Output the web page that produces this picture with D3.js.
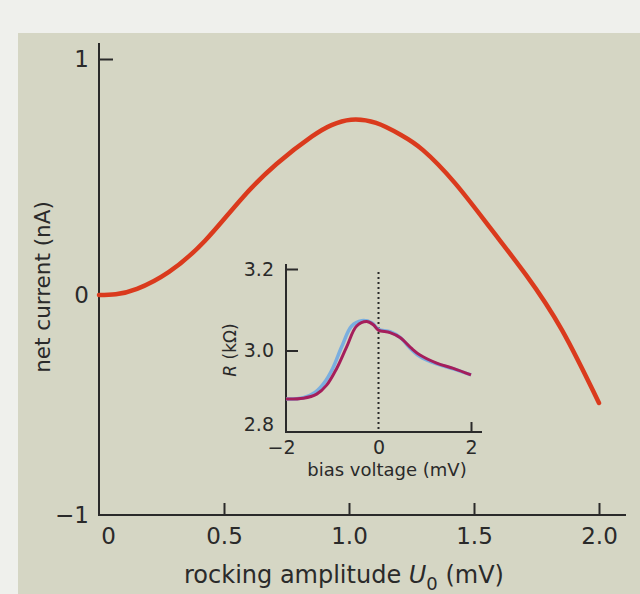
<!DOCTYPE html>
<html>
<head>
<meta charset="utf-8">
<script src="https://cdn.jsdelivr.net/npm/d3@7"></script>
<style>
  html, body { margin: 0; padding: 0; background: #eff0ec; }
  svg { display: block; }
</style>
</head>
<body>
<svg id="chart" width="640" height="594"></svg>
<script>
// ---- Data ----
// Main curve: rocking amplitude U0 (mV) vs net current (nA)
const mainU = [0, 0.067, 0.152, 0.28, 0.424, 0.567, 0.71, 0.852, 0.93, 1.008, 1.108, 1.208, 1.296, 1.424, 1.568, 1.708, 1.852, 2.0];
const mainI = [0, 0.003, 0.026, 0.098, 0.23, 0.404, 0.555, 0.672, 0.72, 0.743, 0.729, 0.678, 0.614, 0.474, 0.28, 0.085, -0.16, -0.491];

// Inset: bias voltage (mV) vs R (kOhm), two traces
const insetV = [-2, -1.625, -1.337, -1.121, -0.904, -0.688, -0.472, -0.256, -0.112, -0.004, 0.249, 0.465, 0.717, 0.897, 1.258, 1.618, 2.0];
const insetRed = [2.881, 2.883, 2.893, 2.915, 2.956, 3.009, 3.060, 3.071, 3.063, 3.050, 3.044, 3.032, 3.005, 2.989, 2.969, 2.956, 2.940];
const insetVBlue = [-2, -1.625, -1.373, -1.178, -0.991, -0.796, -0.580, -0.364, -0.148, -0.004, 0.249, 0.465, 0.717, 0.897, 1.258, 1.618, 2.0];
const insetBlue = [2.881, 2.884, 2.897, 2.920, 2.956, 3.009, 3.060, 3.073, 3.068, 3.052, 3.046, 3.032, 3.002, 2.985, 2.967, 2.955, 2.940];

// Tick labels
const mainXTicks = [0, 0.5, 1.0, 1.5, 2.0];
const mainXTickLabels = ["0", "0.5", "1.0", "1.5", "2.0"];
const mainYTicks = [-1, 0, 1];
const mainYTickLabels = ["\u22121", "0", "1"];
const insetXTicks = [-2, 0, 2];
const insetXTickLabels = ["\u22122", "0", "2"];
const insetYTicks = [2.8, 3.0, 3.2];
const insetYTickLabels = ["2.8", "3.0", "3.2"];

// ---- Drawing ----
const svg = d3.select("#chart");
const FONT = "'DejaVu Sans', sans-serif";
const INK = "#2a2a2a";

// panel background
svg.append("rect").attr("x", 18).attr("y", 33).attr("width", 622).attr("height", 561)
  .attr("fill", "#d5d6c4");

// main scales
const x = d3.scaleLinear().domain([0, 2]).range([99, 599]);
const y = d3.scaleLinear().domain([-1, 0, 1]).range([515, 295, 59]);

const g = svg.append("g");

// main axes lines
g.append("line").attr("x1", x(0)).attr("x2", x(0)).attr("y1", 43).attr("y2", y(-1))
  .attr("stroke", INK).attr("stroke-width", 2);
g.append("line").attr("x1", x(0) - 1).attr("x2", 626).attr("y1", y(-1)).attr("y2", y(-1))
  .attr("stroke", INK).attr("stroke-width", 2);

// x ticks (inward / upward)
const xAxis = d3.axisBottom(x).tickValues(mainXTicks)
  .tickFormat((d, i) => mainXTickLabels[i]).tickSize(0).tickPadding(13);
const gx = g.append("g").attr("transform", `translate(0,${y(-1)})`).call(xAxis);
gx.select(".domain").remove();
gx.selectAll("text").attr("font-family", FONT).attr("font-size", 23).attr("fill", INK);
gx.selectAll(".tick").filter(d => d > 0).append("line")
  .attr("y1", 0).attr("y2", -12).attr("stroke", INK).attr("stroke-width", 2);
gx.selectAll(".tick text").filter(d => d === 0).attr("dx", 9);

// y ticks
const yAxis = d3.axisLeft(y).tickValues(mainYTicks)
  .tickFormat((d, i) => mainYTickLabels[i]).tickSize(0).tickPadding(10);
const gy = g.append("g").attr("transform", `translate(${x(0)},0)`).call(yAxis);
gy.select(".domain").remove();
gy.selectAll("text").attr("font-family", FONT).attr("font-size", 23).attr("fill", INK);
gy.selectAll(".tick").filter(d => d === 1).append("line")
  .attr("x1", 0).attr("x2", 14).attr("stroke", INK).attr("stroke-width", 2);

// axis titles
svg.append("text")
  .attr("transform", `translate(50,287) rotate(-90)`)
  .attr("text-anchor", "middle")
  .attr("font-family", FONT).attr("font-size", 21.5).attr("fill", INK)
  .text("net current (nA)");

const xt = svg.append("text")
  .attr("x", 344).attr("y", 583)
  .attr("text-anchor", "middle")
  .attr("font-family", FONT).attr("font-size", 24).attr("fill", INK);
xt.append("tspan").text("rocking amplitude ");
xt.append("tspan").attr("font-style", "italic").text("U");
xt.append("tspan").attr("font-size", 18).attr("dy", 7).text("0");
xt.append("tspan").attr("dy", -7).text(" (mV)");

// main curve
const mainData = mainU.map((u, i) => [u, mainI[i]]);
const line = d3.line().x(d => x(d[0])).y(d => y(d[1])).curve(d3.curveNatural);
svg.append("path").datum(mainData).attr("d", line)
  .attr("fill", "none").attr("stroke", "#da3a1d").attr("stroke-width", 4.5)
  .attr("stroke-linecap", "round");

// ---- Inset ----
const ix = d3.scaleLinear().domain([-2, 2]).range([286, 471]);
const iy = d3.scaleLinear().domain([2.8, 3.2]).range([432, 269]);
const ig = svg.append("g");

ig.append("line").attr("x1", ix(-2)).attr("x2", ix(-2)).attr("y1", 264).attr("y2", iy(2.8))
  .attr("stroke", INK).attr("stroke-width", 2);
ig.append("line").attr("x1", ix(-2) - 1).attr("x2", 482).attr("y1", iy(2.8)).attr("y2", iy(2.8))
  .attr("stroke", INK).attr("stroke-width", 2);

const igx = ig.append("g").attr("transform", `translate(0,${iy(2.8)})`)
  .call(d3.axisBottom(ix).tickValues(insetXTicks).tickFormat((d, i) => insetXTickLabels[i]).tickSize(0).tickPadding(9));
igx.select(".domain").remove();
igx.selectAll("text").attr("font-family", FONT).attr("font-size", 19).attr("fill", INK);
igx.selectAll(".tick text").filter(d => d === -2).attr("dx", -5);
igx.selectAll(".tick").filter(d => d === 2).append("line")
  .attr("y1", 0).attr("y2", -10).attr("stroke", INK).attr("stroke-width", 2);

const igy = ig.append("g").attr("transform", `translate(${ix(-2)},0)`)
  .call(d3.axisLeft(iy).tickValues(insetYTicks).tickFormat((d, i) => insetYTickLabels[i]).tickSize(0).tickPadding(12));
igy.select(".domain").remove();
igy.selectAll("text").attr("font-family", FONT).attr("font-size", 19).attr("fill", INK);
igy.selectAll(".tick text").filter(d => d === 2.8).attr("dy", "-0.1em");
igy.selectAll(".tick").filter(d => d > 2.9).append("line")
  .attr("x1", 0).attr("x2", 12).attr("stroke", INK).attr("stroke-width", 2);

// dotted zero line
ig.append("line").attr("x1", ix(0)).attr("x2", ix(0)).attr("y1", 272).attr("y2", iy(2.8))
  .attr("stroke", INK).attr("stroke-width", 2).attr("stroke-dasharray", "2,3");

// inset titles
const rt = svg.append("text")
  .attr("transform", `translate(236,350) rotate(-90)`)
  .attr("text-anchor", "middle")
  .attr("font-family", FONT).attr("font-size", 17).attr("fill", INK);
rt.append("tspan").attr("font-style", "italic").text("R");
rt.append("tspan").text(" (k\u03A9)");

svg.append("text").attr("x", 387).attr("y", 476).attr("text-anchor", "middle")
  .attr("font-family", FONT).attr("font-size", 18).attr("fill", INK)
  .text("bias voltage (mV)");

// inset curves
const iline = d3.line().x(d => ix(d[0])).y(d => iy(d[1])).curve(d3.curveCatmullRom.alpha(0.5));
svg.append("path").datum(insetVBlue.map((v, i) => [v, insetBlue[i]])).attr("d", iline)
  .attr("fill", "none").attr("stroke", "#7aaedf").attr("stroke-width", 3.5);
svg.append("path").datum(insetV.map((v, i) => [v, insetRed[i]])).attr("d", iline)
  .attr("fill", "none").attr("stroke", "#a51e5b").attr("stroke-width", 3);
</script>
</body>
</html>
